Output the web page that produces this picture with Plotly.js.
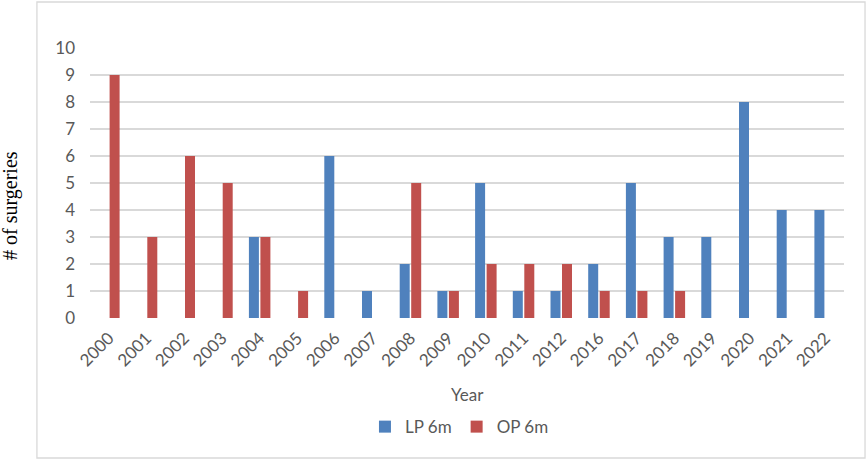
<!DOCTYPE html>
<html>
<head>
<meta charset="utf-8">
<script src="https://cdn.plot.ly/plotly-3.0.1.min.js"></script>
<style>html,body{margin:0;padding:0;background:#fff;}#chart{width:867px;height:460px;}</style>
</head>
<body>
<div id="chart"></div>
<script>
var years = ["2000","2001","2002","2003","2004","2005","2006","2007","2008","2009","2010","2011","2012","2016","2017","2018","2019","2020","2021","2022"];
var lp6m = [0,0,0,0,3,0,6,1,2,1,5,1,1,2,5,3,3,8,4,4];
var op6m = [9,3,6,5,3,1,0,0,5,1,2,2,2,1,1,1,0,0,0,0];
var yTicks = [0,1,2,3,4,5,6,7,8,9,10];

var tickFont = {family: "Lato, 'Open Sans', sans-serif", size: 17, color: "#595959"};

var traces = [
  {type: "bar", name: "LP 6m", x: years, y: lp6m, marker: {color: "#4F81BD"}, hoverinfo: "x+y+name"},
  {type: "bar", name: "OP 6m", x: years, y: op6m, marker: {color: "#C0504D"}, hoverinfo: "x+y+name"}
];

var layout = {
  width: 867, height: 460,
  margin: {l: 90, r: 23, t: 48, b: 142, pad: 0},
  paper_bgcolor: "#fff", plot_bgcolor: "#fff",
  barmode: "group", bargap: 0.39, bargroupgap: 0.13,
  font: tickFont,
  xaxis: {
    type: "category", tickangle: -45, tickfont: tickFont,
    showgrid: false, zeroline: false, showline: false, ticks: "",
    ticklabelstandoff: 6
  },
  yaxis: {
    range: [0, 10], tickvals: yTicks, ticktext: yTicks.map(String),
    tickfont: tickFont, showgrid: true, gridcolor: "#D9D9D9", gridwidth: 1.3,
    zeroline: false, showline: false, ticks: "", ticklabelstandoff: 14
  },
  showlegend: true,
  legend: {orientation: "h", x: 0.49, xanchor: "center", y: -0.404, yanchor: "middle",
           font: tickFont, itemwidth: 30, traceorder: "normal"},
  annotations: [
    {text: "# of surgeries", xref: "paper", yref: "paper", x: 0, xshift: -79, y: 0.415,
     xanchor: "center", yanchor: "middle", textangle: -90, showarrow: false,
     font: {family: "'Liberation Serif', 'Times New Roman', serif", size: 20, color: "#000"}},
    {text: "Year", xref: "paper", yref: "paper", x: 0.5, y: -0.285, xanchor: "center", yanchor: "middle",
     showarrow: false, font: tickFont}
  ],
  shapes: [
    {type: "rect", xref: "paper", yref: "paper", x0: -0.0704, x1: 1.0279, y0: -0.5185, y1: 1.1704,
     line: {color: "#D9D9D9", width: 1.3}, fillcolor: "rgba(0,0,0,0)", layer: "below"}
  ]
};

Plotly.newPlot("chart", traces, layout, {displayModeBar: false, staticPlot: true});
</script>
</body>
</html>
